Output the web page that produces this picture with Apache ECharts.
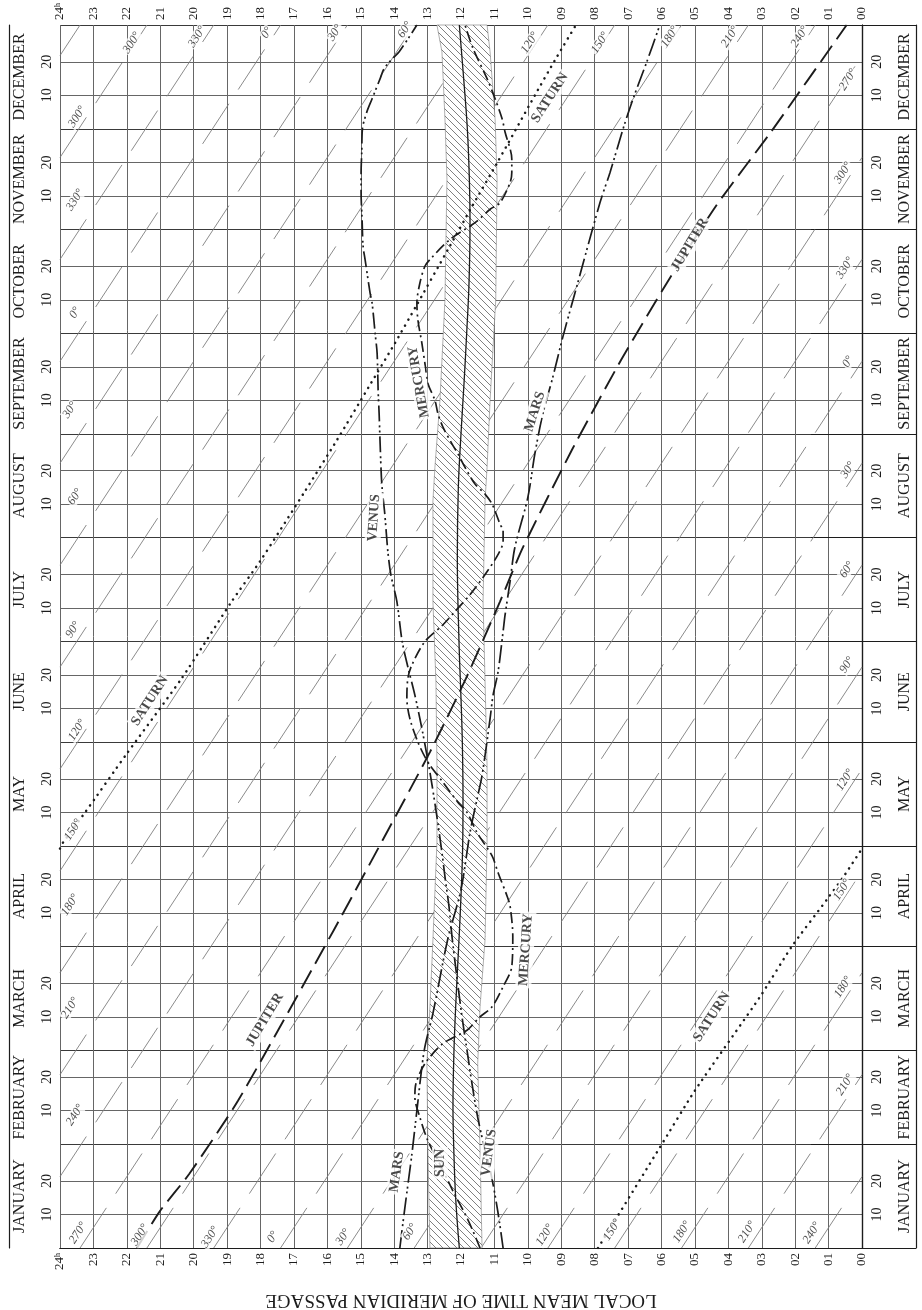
<!DOCTYPE html>
<html>
<head>
<meta charset="utf-8">
<script src="https://cdn.jsdelivr.net/npm/echarts@6/dist/echarts.min.js"></script>
<style>
  html, body { margin: 0; padding: 0; background: #fff; }
  #chart { width: 922px; height: 1310px; }
</style>
</head>
<body>
<div id="chart"></div>
<script>
var ink = '#1c1c1c';
var gridInk = '#666';
var serif = '"Liberation Serif", "Times New Roman", "DejaVu Serif", serif';

// calendar (day of year, 0 = Jan 1)
var monthNames = ['JANUARY', 'FEBRUARY', 'MARCH', 'APRIL', 'MAY', 'JUNE', 'JULY',
  'AUGUST', 'SEPTEMBER', 'OCTOBER', 'NOVEMBER', 'DECEMBER'];
var monthStart = [0, 31, 59, 90, 120, 151, 181, 212, 243, 273, 304, 334, 365];
var dayMarks = [10, 20];

// sun: meridian passage (hours)
var sunDay  = [0, 15, 31, 42, 59, 74, 90, 105, 120, 134, 151, 164, 181, 206, 227, 243, 258, 273, 288, 306, 319, 334, 349, 365];
var sunHour = [12.05, 12.16, 12.22, 12.24, 12.21, 12.15, 12.07, 12.0, 11.95, 11.94, 11.96, 12.0, 12.06, 12.11, 12.08, 12.0, 11.91, 11.83, 11.76, 11.73, 11.75, 11.81, 11.92, 12.05];

// shaded band round the sun
var bandDay  = [0, 29, 55, 72, 92, 121, 144, 169, 193, 223, 233, 253, 283, 319, 337, 357, 365];
var bandEast = [12.93, 12.99, 13.02, 12.93, 12.84, 12.72, 12.72, 12.75, 12.84, 12.84, 12.78, 12.63, 12.48, 12.42, 12.48, 12.57, 12.72];
var bandWest = [11.37, 11.43, 11.5, 11.43, 11.28, 11.22, 11.22, 11.28, 11.34, 11.28, 11.22, 11.13, 10.96, 10.92, 10.98, 11.13, 11.22];

// planets
var mercuryDay  = [0, 5, 9, 17, 25, 32, 39, 45, 49, 55, 61, 65, 69, 72, 78, 84, 93, 102, 105, 112, 117, 124, 130, 133, 139, 145, 151, 158, 164, 170, 174, 181, 186, 190, 195, 201, 207, 211, 214, 216, 222, 225, 228, 233, 237, 240, 245, 249, 253, 258, 264, 270, 277, 282, 288, 293, 295, 301, 306, 310, 312, 318, 321, 325, 333, 337, 343, 349, 358, 365];
var mercuryHour = [11.43, 11.64, 11.82, 12.24, 12.63, 12.99, 13.23, 13.38, 13.35, 13.08, 12.54, 11.82, 11.43, 11.07, 10.74, 10.48, 10.45, 10.53, 10.62, 10.89, 11.07, 11.52, 11.82, 12.09, 12.54, 12.99, 13.29, 13.53, 13.62, 13.59, 13.47, 13.08, 12.54, 12.18, 11.73, 11.28, 10.89, 10.74, 10.74, 10.83, 11.07, 11.28, 11.58, 11.88, 12.09, 12.27, 12.54, 12.69, 12.78, 12.99, 13.08, 13.17, 13.29, 13.32, 13.23, 13.08, 12.93, 12.33, 11.58, 11.13, 10.83, 10.53, 10.48, 10.48, 10.68, 10.77, 10.98, 11.22, 11.64, 11.88];

var venusDay  = [0, 11, 22, 30, 39, 49, 57, 69, 83, 93, 102, 110, 118, 130, 142, 154, 165, 173, 181, 193, 201, 208, 219, 228, 240, 249, 256, 267, 273, 282, 285, 295, 299, 307, 315, 321, 327, 334, 339, 343, 349, 352, 355, 357, 365];
var venusHour = [10.74, 10.9, 11.1, 11.3, 11.5, 11.67, 11.79, 11.97, 12.15, 12.27, 12.36, 12.47, 12.57, 12.74, 12.93, 13.15, 13.38, 13.58, 13.76, 13.92, 14.1, 14.19, 14.28, 14.37, 14.42, 14.45, 14.48, 14.51, 14.57, 14.66, 14.72, 14.87, 14.93, 14.96, 14.99, 14.99, 14.97, 14.95, 14.82, 14.66, 14.42, 14.3, 14.05, 13.85, 13.32];

var marsDay  = [0, 12, 28, 41, 59, 70, 92, 107, 124, 134, 141, 158, 165, 172, 184, 189, 199, 209, 224, 237, 249, 260, 272, 285, 312, 321, 334, 343, 354, 365];
var marsHour = [13.83, 13.68, 13.47, 13.32, 13.1, 12.84, 12.4, 12.0, 11.73, 11.52, 11.37, 11.13, 11.04, 10.89, 10.74, 10.68, 10.53, 10.39, 10.0, 9.79, 9.55, 9.25, 8.95, 8.59, 7.84, 7.54, 7.15, 6.85, 6.44, 6.05];

var jupiterDay  = [0, 11, 22, 44, 95, 122, 148, 170, 193, 209, 238, 265, 289, 311, 333, 365];
var jupiterHour = [21.7, 21.01, 20.14, 18.67, 15.8, 14.33, 12.93, 11.85, 10.83, 10.15, 8.69, 7.21, 5.78, 4.37, 2.73, 0.46];

// Saturn wraps past 00h in late April
var saturnDayA  = [0, 30, 47, 75, 90, 104, 111, 119.2];
var saturnHourA = [7.9, 6.05, 5.0, 3.05, 2.1, 1.05, 0.54, 0];
var saturnDayB  = [119.2, 121, 130, 147, 170, 193, 205, 226, 241, 257, 270, 281, 298, 311, 324, 344, 355, 365];
var saturnHourB = [24, 23.91, 23.25, 22.04, 20.36, 18.86, 18.01, 16.66, 15.72, 14.76, 13.98, 13.35, 12.39, 11.66, 10.91, 9.79, 9.16, 8.56];

// sidereal hour angle lines: hour of passage on Jan 1
var shaNames     = ['0°', '30°', '60°', '90°', '120°', '150°', '180°', '210°', '240°', '270°', '300°', '330°'];
var shaStartHour = [17.4, 15.4, 13.4, 11.4, 9.4, 7.4, 5.4, 3.4, 1.4, 23.4, 21.4, 19.4];

// annotations: text, hour, day, angle
var planetLabels = [
  ['SATURN', 21.31, 163.3, 57], ['SATURN', 4.49, 69, 57], ['SATURN', 9.34, 343.3, 57],
  ['JUPITER', 17.87, 68.1, 59], ['JUPITER', 5.15, 299.4, 59],
  ['MARS', 13.92, 22.7, 82], ['MARS', 9.79, 249.6, 72],
  ['VENUS', 11.16, 28.4, 82], ['VENUS', 14.6, 217.9, 86],
  ['MERCURY', 10.06, 89, 86], ['MERCURY', 13.26, 258.5, 100],
  ['SUN', 12.63, 25.4, 90]
];
var shaLabels = [
  ['270°', 23.46, 4.5], ['300°', 21.61, 3.9], ['330°', 19.51, 3.3], ['0°', 17.63, 3.3], ['30°', 15.53, 3.3],
  ['60°', 13.53, 4.8], ['120°', 9.49, 3.9], ['150°', 7.48, 5.4], ['180°', 5.39, 4.8], ['210°', 3.44, 4.8], ['240°', 1.5, 4.5],
  ['300°', 21.85, 359.7], ['330°', 19.9, 361.5], ['0°', 17.81, 362.7], ['30°', 15.77, 362.7], ['60°', 13.68, 363.6],
  ['120°', 9.94, 359.7], ['150°', 7.84, 359.7], ['180°', 5.75, 361.5], ['210°', 3.95, 361.5], ['240°', 1.86, 361.5], ['270°', 0.42, 348.7],
  ['300°', 23.49, 337.6], ['330°', 23.55, 312.8], ['0°', 23.55, 279.1], ['30°', 23.7, 250.1], ['60°', 23.55, 224.2],
  ['90°', 23.61, 184.5], ['120°', 23.49, 154.6], ['150°', 23.61, 124.8], ['180°', 23.7, 102.4], ['210°', 23.7, 71.6], ['240°', 23.55, 39.7],
  ['300°', 0.57, 320.9], ['330°', 0.51, 292.5], ['0°', 0.42, 264.5], ['30°', 0.42, 232.2], ['60°', 0.45, 202.4],
  ['90°', 0.45, 174], ['120°', 0.51, 139.7], ['150°', 0.6, 106.9], ['180°', 0.57, 77.9], ['210°', 0.51, 48.7]
];

function pairs(hours, days) {
  return hours.map(function (h, i) { return [h, days[i]]; });
}

var dayTicks = [];
monthStart.slice(0, 12).forEach(function (s) {
  dayMarks.forEach(function (m) { dayTicks.push(s + m); });
});
var monthMid = monthNames.map(function (n, i) { return (monthStart[i] + monthStart[i + 1]) / 2; });

function dayText(v) {
  for (var i = 11; i >= 0; i--) {
    if (v > monthStart[i]) return String(Math.round(v - monthStart[i]));
  }
  return '';
}
function monthText(v) {
  var best = 0;
  monthMid.forEach(function (m, i) { if (Math.abs(m - v) < Math.abs(monthMid[best] - v)) best = i; });
  return monthNames[best];
}
function hourText(v) {
  var r = Math.round(v);
  if (r === 24) return '{n|24}{h|h}';
  return (r < 10 ? '0' : '') + r;
}

// SHA lines, split where they run off 00h and come back in at 24h
var shaSegments = [];
shaStartHour.forEach(function (t0) {
  var dWrap = 365 * t0 / 24;
  shaSegments.push({ coords: [[t0, 0], [0, dWrap]] });
  shaSegments.push({ coords: [[24, dWrap], [t0, 365]] });
});

// hatching for the sun band
var hatch = document.createElement('canvas');
hatch.width = 7; hatch.height = 7;
var g = hatch.getContext('2d');
g.fillStyle = '#fff'; g.fillRect(0, 0, 7, 7);
g.strokeStyle = '#606060'; g.lineWidth = 0.8;
g.beginPath();
g.moveTo(-1, -1); g.lineTo(8, 8);
g.moveTo(-1, 6); g.lineTo(1, 8);
g.moveTo(6, -1); g.lineTo(8, 1);
g.stroke();

var hourAxis = {
  type: 'value', min: 0, max: 24, interval: 1, inverse: true,
  axisLine: { show: true, lineStyle: { color: ink, width: 1.2 } },
  axisTick: { show: false },
  axisLabel: {
    rotate: 90, margin: 5, formatter: hourText, color: ink, fontFamily: serif, fontSize: 13,
    rich: {
      n: { fontFamily: serif, fontSize: 13, color: ink },
      h: { fontFamily: serif, fontSize: 8, color: ink, verticalAlign: 'top' }
    }
  },
  splitLine: { show: false }
};

function planetSeries(data, dash, width, cap, smooth) {
  return {
    type: 'line', data: data, showSymbol: false, symbol: 'none',
    smooth: smooth, z: 4, silent: true,
    lineStyle: { color: ink, width: width, type: dash, cap: cap || 'butt' }
  };
}

var chart = echarts.init(document.getElementById('chart'));
chart.setOption({
  animation: false,
  backgroundColor: '#fff',
  grid: { left: 60, right: 60, top: 25, bottom: 62, containLabel: false, outerBoundsMode: 'none' },
  xAxis: [
    echarts.util.merge({
      position: 'bottom',
      splitLine: { show: true, lineStyle: { color: gridInk, width: 1 } },
      name: 'LOCAL MEAN TIME OF MERIDIAN PASSAGE', nameLocation: 'middle', nameGap: 42, nameRotate: 180,
      nameTextStyle: { fontFamily: serif, fontSize: 19, color: ink }
    }, hourAxis, false),
    echarts.util.merge({ position: 'top' }, hourAxis, false)
  ],
  yAxis: [
    {
      type: 'value', min: 0, max: 365, position: 'left',
      axisLine: { show: true, lineStyle: { color: ink, width: 1.2 } },
      axisTick: { show: true, customValues: monthStart, length: 51, lineStyle: { color: ink, width: 1.2 } },
      axisLabel: { customValues: dayTicks, formatter: dayText, rotate: 90, margin: 6, color: ink, fontFamily: serif, fontSize: 14 },
      splitLine: { show: true, lineStyle: { color: '#3a3a3a', width: 1.1 } }
    },
    {
      type: 'value', min: 0, max: 365, position: 'left',
      axisLine: { show: false },
      axisTick: { show: false, customValues: dayTicks },
      axisLabel: { show: false },
      splitLine: { show: true, lineStyle: { color: gridInk, width: 1 } }
    },
    {
      type: 'value', min: 0, max: 365, position: 'left', offset: 51,
      axisLine: { show: true, lineStyle: { color: ink, width: 1.2 } },
      axisTick: { show: false },
      axisLabel: { customValues: monthMid, formatter: monthText, rotate: 90, inside: true, margin: 3, color: ink, fontFamily: serif, fontSize: 16 },
      splitLine: { show: false }
    },
    {
      type: 'value', min: 0, max: 365, position: 'right',
      axisLine: { show: true, lineStyle: { color: ink, width: 1.2 } },
      axisTick: { show: true, customValues: monthStart, length: 54, lineStyle: { color: ink, width: 1.2 } },
      axisLabel: { customValues: dayTicks, formatter: dayText, rotate: 90, margin: 8, color: ink, fontFamily: serif, fontSize: 14 },
      splitLine: { show: false }
    },
    {
      type: 'value', min: 0, max: 365, position: 'right', offset: 54,
      axisLine: { show: true, lineStyle: { color: ink, width: 1.2 } },
      axisTick: { show: false },
      axisLabel: { customValues: monthMid, formatter: monthText, rotate: 90, inside: true, margin: 3, color: ink, fontFamily: serif, fontSize: 16 },
      splitLine: { show: false }
    }
  ],
  series: [
    {
      type: 'lines', coordinateSystem: 'cartesian2d', polyline: false, silent: true, z: 1,
      lineStyle: { color: '#7e7e7e', width: 0.9, type: [48, 17], opacity: 1, curveness: 0 },
      data: shaSegments
    },
    {
      type: 'custom', coordinateSystem: 'cartesian2d', silent: true, z: 2,
      data: [[12, 182]],
      renderItem: function (params, api) {
        var pts = [];
        for (var i = 0; i < bandDay.length; i++) pts.push(api.coord([bandEast[i], bandDay[i]]));
        for (var j = bandDay.length - 1; j >= 0; j--) pts.push(api.coord([bandWest[j], bandDay[j]]));
        return {
          type: 'polygon', shape: { points: pts },
          style: { fill: { image: hatch, repeat: 'repeat' }, stroke: '#7a7a7a', lineWidth: 0.6 }
        };
      }
    },
    {
      type: 'line', data: pairs(sunHour, sunDay), showSymbol: false, symbol: 'none',
      smooth: 0.4, z: 3, silent: true,
      lineStyle: { color: ink, width: 1.3 }
    },
    planetSeries(pairs(mercuryHour, mercuryDay), [11, 4, 2, 4], 1.7, 'butt', 0.3),
    planetSeries(pairs(venusHour, venusDay), [16, 4, 2, 3, 2, 4], 1.7, 'butt', 0.3),
    planetSeries(pairs(marsHour, marsDay), [18, 4, 2, 3, 2, 4], 1.7, 'butt', 0.3),
    planetSeries(pairs(jupiterHour, jupiterDay), [20, 8], 1.9, 'butt', 0.2),
    planetSeries(pairs(saturnHourA, saturnDayA), [0.1, 6.5], 2.5, 'round', 0.2),
    planetSeries(pairs(saturnHourB, saturnDayB), [0.1, 6.5], 2.5, 'round', 0.2),
    {
      type: 'scatter', silent: true, z: 6, symbolSize: 1,
      itemStyle: { color: 'rgba(0,0,0,0)' },
      data: shaLabels.map(function (l) { return { value: [l[1], l[2]], name: l[0] }; }),
      label: {
        show: true, position: 'inside', formatter: '{b}', rotate: 57,
        fontFamily: serif, fontStyle: 'italic', fontSize: 12, color: ink,
        backgroundColor: '#fff', padding: [0, 1]
      }
    },
    {
      type: 'scatter', silent: true, z: 7, symbolSize: 1,
      itemStyle: { color: 'rgba(0,0,0,0)' },
      data: planetLabels.map(function (l) {
        return { value: [l[1], l[2]], name: l[0], label: { rotate: l[3] } };
      }),
      label: {
        show: true, position: 'inside', formatter: '{b}',
        fontFamily: serif, fontWeight: 'bold', fontSize: 14, color: ink,
        backgroundColor: '#fff', padding: [1, 2]
      }
    }
  ]
});
</script>
</body>
</html>
